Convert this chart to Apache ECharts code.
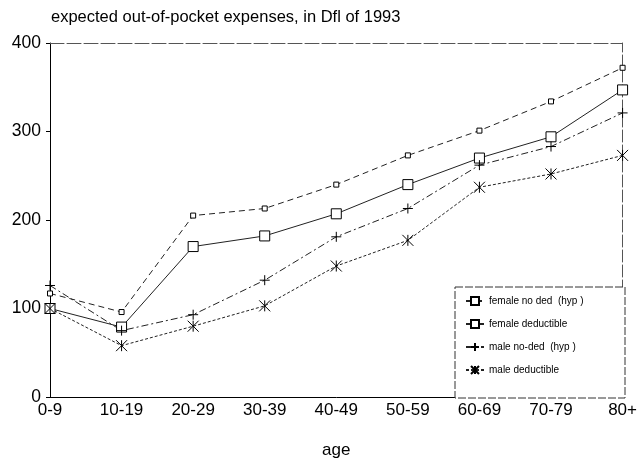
<!DOCTYPE html>
<html>
<head>
<meta charset="utf-8">
<script src="https://cdn.jsdelivr.net/npm/echarts@6/dist/echarts.min.js"></script>
<style>
  html, body { margin: 0; padding: 0; background: #fff; }
  #chart { width: 640px; height: 464px; }
</style>
</head>
<body>
<div id="chart"></div>
<script>
var ageGroups = ['0-9', '10-19', '20-29', '30-39', '40-49', '50-59', '60-69', '70-79', '80+'];
var femaleNoDed = [117, 96, 205, 213, 240, 273, 301, 334, 372];
var femaleDed = [100, 79, 170, 182, 207, 240, 270, 294, 347];
var maleNoDed = [126, 75, 93, 132, 181, 213, 262, 283, 321];
var maleDed = [100, 58, 80, 103, 148, 177, 237, 252, 273];

var plusPath = 'path://M0,5L10,5M5,0L5,10';
var starPath = 'path://M0,0L10,10M10,0L0,10M5,0L5,10';

var myChart = echarts.init(document.getElementById('chart'));

function mkSeries(name, data, symbol, size, lineType) {
    return {
        name: name,
        type: 'line',
        data: data,
        symbol: symbol,
        symbolSize: size,
        showAllSymbol: true,
        lineStyle: { color: '#222', width: 1, type: lineType },
        itemStyle: { color: '#fff', borderColor: '#000', borderWidth: 1 },
        emphasis: { disabled: true },
        z: 3
    };
}

var option = {
    backgroundColor: '#fff',
    animation: false,
    textStyle: { fontFamily: 'Liberation Sans, Arial, sans-serif', color: '#000' },
    title: {
        text: 'expected out-of-pocket expenses, in Dfl of 1993',
        left: 46,
        top: 4,
        textStyle: { fontSize: 16.5, fontWeight: 'normal', color: '#000' }
    },
    grid: { left: 50, right: 15, top: 43, bottom: 66 },
    legend: {
        orient: 'vertical',
        left: 460,
        top: 291,
        itemGap: 13,
        itemWidth: 18,
        itemHeight: 10,
        textStyle: { fontSize: 10, color: '#000' },
        data: ['female no ded  (hyp )', 'female deductible', 'male no-ded  (hyp )', 'male deductible']
    },
    graphic: [{
        type: 'rect',
        shape: { x: 455, y: 287, width: 170, height: 111 },
        style: { fill: '#fff', stroke: '#333', lineWidth: 1, lineDash: [8, 2] },
        z: 4
    }],
    xAxis: [{
        type: 'category',
        data: ageGroups,
        boundaryGap: false,
        name: 'age',
        nameLocation: 'middle',
        nameGap: 45,
        nameTextStyle: { fontSize: 17, color: '#000' },
        axisLine: { lineStyle: { color: '#000', width: 1 } },
        axisTick: { show: false },
        axisLabel: { fontSize: 17, color: '#000', margin: 5 },
        splitLine: { show: false }
    }, {
        type: 'category',
        data: ageGroups,
        boundaryGap: false,
        position: 'top',
        axisLine: { onZero: false, lineStyle: { color: '#555', width: 1, type: [14, 3] } },
        axisTick: { show: false },
        axisLabel: { show: false }
    }],
    yAxis: [{
        type: 'value',
        min: 0,
        max: 400,
        interval: 100,
        axisLine: { show: true, lineStyle: { color: '#000', width: 1 } },
        axisTick: { show: true, length: 4, lineStyle: { color: '#000' } },
        axisLabel: { fontSize: 17.5, color: '#000', margin: 9 },
        splitLine: { show: false }
    }, {
        type: 'value',
        min: 0,
        max: 400,
        interval: 100,
        position: 'right',
        axisLine: { show: true, onZero: false, lineStyle: { color: '#555', width: 1, type: [12, 3] } },
        axisTick: { show: false },
        axisLabel: { show: false },
        splitLine: { show: false }
    }],
    series: [
        mkSeries('female no ded  (hyp )', femaleNoDed, 'rect', 5, [6, 4]),
        mkSeries('female deductible', femaleDed, 'rect', 10, 'solid'),
        mkSeries('male no-ded  (hyp )', maleNoDed, plusPath, 10, [7, 3, 2, 3]),
        mkSeries('male deductible', maleDed, starPath, 11, [3, 2])
    ]
};

myChart.setOption(option);
</script>
</body>
</html>
